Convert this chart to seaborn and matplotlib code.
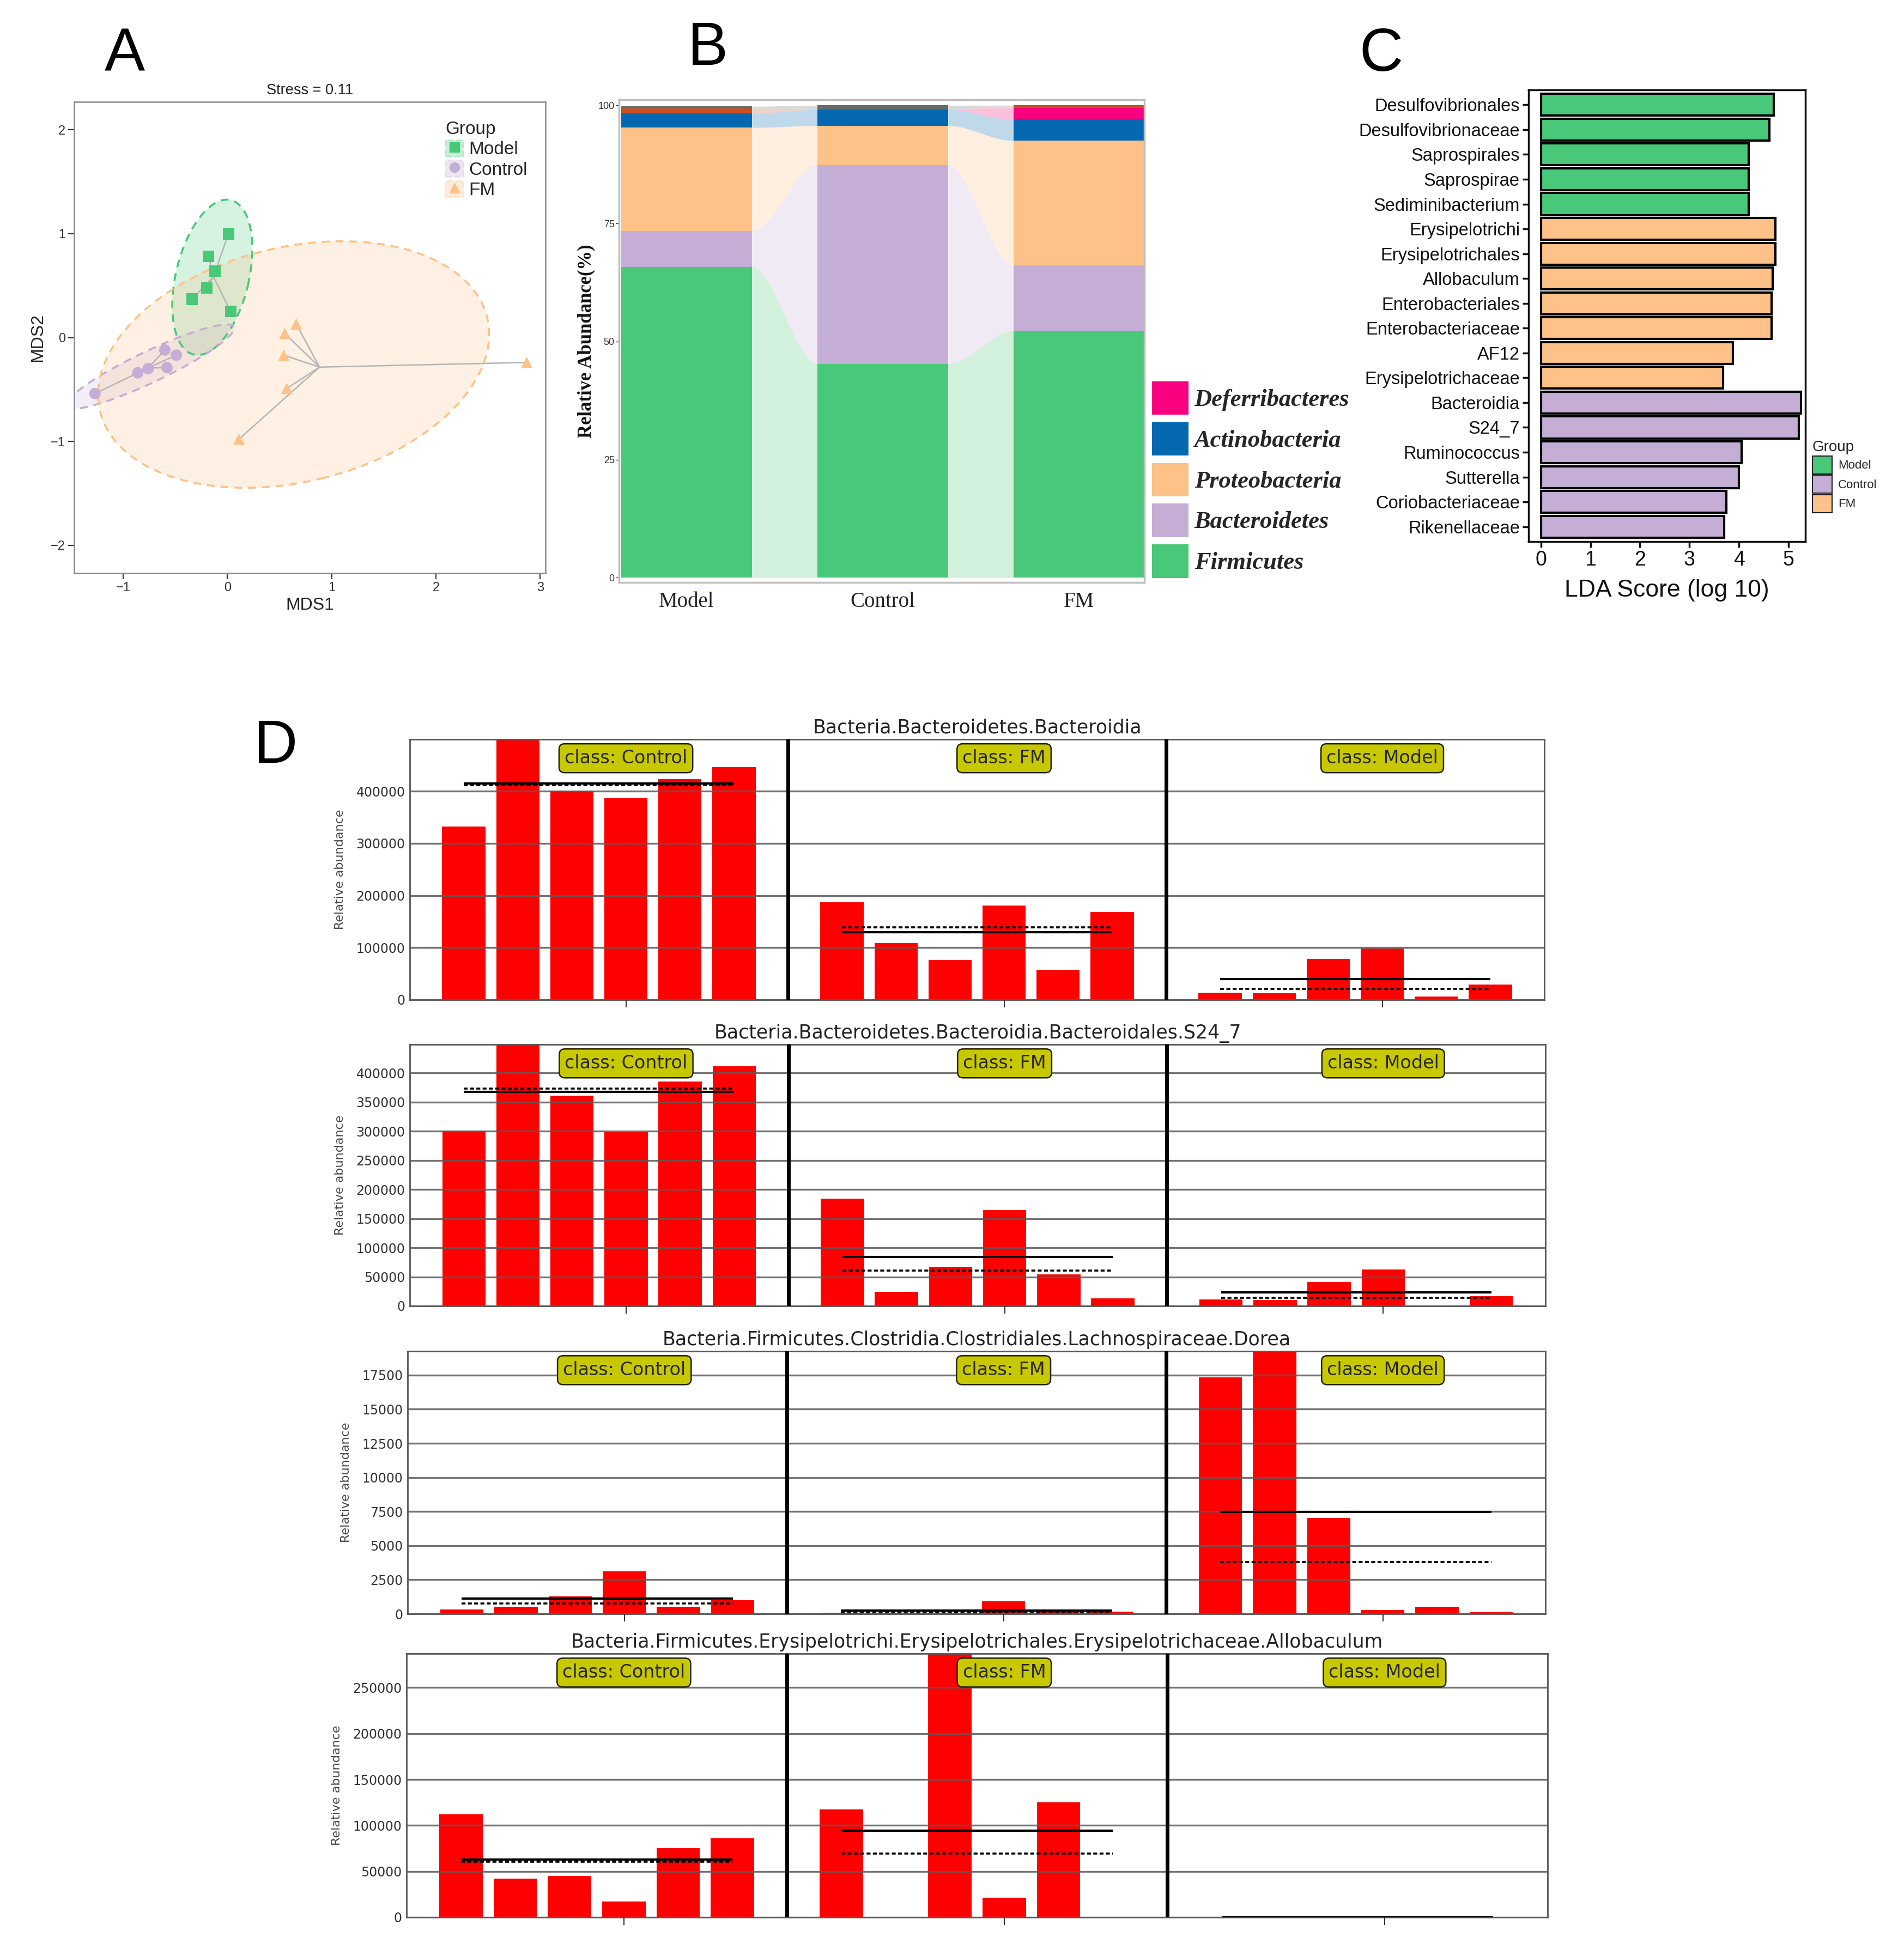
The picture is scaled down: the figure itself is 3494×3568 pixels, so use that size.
import numpy as np
import pandas as pd
import matplotlib
matplotlib.use("Agg")
import matplotlib.pyplot as plt
import matplotlib.transforms as mtransforms
from matplotlib.patches import Ellipse, Patch
from matplotlib.lines import Line2D
from matplotlib.legend_handler import HandlerTuple
from matplotlib.ticker import MultipleLocator, FuncFormatter
from matplotlib import font_manager
import seaborn as sns

# ------------------------------------------------------------------ data
# Panel A: NMDS ordination
groups = ["Model", "Control", "FM"]
model_mds1 = [0.01, -0.18, -0.12, -0.20, -0.34, 0.03]
model_mds2 = [1.00, 0.78, 0.64, 0.48, 0.37, 0.25]
control_mds1 = [-0.60, -0.49, -0.76, -0.86, -0.58, -1.27]
control_mds2 = [-0.12, -0.17, -0.30, -0.34, -0.29, -0.54]
fm_mds1 = [0.66, 0.55, 0.54, 0.57, 0.11, 2.87]
fm_mds2 = [0.13, 0.04, -0.17, -0.49, -0.98, -0.24]
# group ellipses: centre x, centre y, full width, full height, angle (deg)
ell_cx = [-0.145, -0.74, 0.635]
ell_cy = [0.58, -0.28, -0.26]
ell_w = [1.53, 1.78, 3.82]
ell_h = [0.70, 0.30, 2.26]
ell_angle = [76.6, 25.5, 13.7]
stress_text = "Stress = 0.11"

# Panel B: phylum relative abundance (%)
b_groups = ["Model", "Control", "FM"]
phyla = ["Firmicutes", "Bacteroidetes", "Proteobacteria", "Actinobacteria",
         "Deferribacteres", "Tenericutes", "Others"]
firmicutes = [65.8, 45.3, 52.3]
bacteroidetes = [7.6, 42.1, 13.8]
proteobacteria = [21.9, 8.3, 26.4]
actinobacteria = [3.0, 3.4, 4.5]
deferribacteres = [0.0, 0.0, 2.5]
tenericutes = [1.0, 0.1, 0.3]
others = [0.5, 0.8, 0.2]
legend_phyla = ["Deferribacteres", "Actinobacteria", "Proteobacteria",
                "Bacteroidetes", "Firmicutes"]

# Panel C: LEfSe LDA scores
lda_features = ["Desulfovibrionales", "Desulfovibrionaceae", "Saprospirales",
                "Saprospirae", "Sediminibacterium", "Erysipelotrichi",
                "Erysipelotrichales", "Allobaculum", "Enterobacteriales",
                "Enterobacteriaceae", "AF12", "Erysipelotrichaceae",
                "Bacteroidia", "S24_7", "Ruminococcus", "Sutterella",
                "Coriobacteriaceae", "Rikenellaceae"]
lda_scores = [4.70, 4.61, 4.20, 4.20, 4.20, 4.73, 4.73, 4.68, 4.66, 4.66,
              3.88, 3.68, 5.25, 5.21, 4.05, 4.00, 3.74, 3.70]
lda_groups = ["Model", "Model", "Model", "Model", "Model",
              "FM", "FM", "FM", "FM", "FM", "FM", "FM",
              "Control", "Control", "Control", "Control", "Control", "Control"]

# Panel D: per-sample relative abundance of selected biomarkers
d_classes = ["Control", "FM", "Model"]
d_titles = ["Bacteria.Bacteroidetes.Bacteroidia",
            "Bacteria.Bacteroidetes.Bacteroidia.Bacteroidales.S24_7",
            "Bacteria.Firmicutes.Clostridia.Clostridiales.Lachnospiraceae.Dorea",
            "Bacteria.Firmicutes.Erysipelotrichi.Erysipelotrichales.Erysipelotrichaceae.Allobaculum"]
bacteroidia_control = [332400, 500000, 400000, 386500, 423200, 446400]
bacteroidia_fm = [187500, 109000, 76500, 180500, 57200, 168000]
bacteroidia_model = [13500, 12400, 78500, 98600, 6600, 29000]
s24_control = [300700, 449000, 361200, 298300, 385500, 411400]
s24_fm = [184000, 23900, 67500, 164400, 54300, 13500]
s24_model = [11100, 10400, 40800, 63000, 300, 17000]
dorea_control = [300, 500, 1270, 3100, 500, 1000]
dorea_fm = [90, 30, 50, 930, 200, 150]
dorea_model = [17322, 19400, 7041, 295, 516, 118]
allobaculum_control = [112100, 42300, 44900, 17200, 75500, 86000]
allobaculum_fm = [117600, 600, 300000, 21600, 125200, 600]
allobaculum_model = [600, 50, 0, 0, 0, 0]
d_ylim_top = [499500, 449000, 19250, 287000]
d_tick_step = [100000, 50000, 2500, 50000]

# ------------------------------------------------------------------ style
sns.set_theme(style="white")
names = {f.name for f in font_manager.fontManager.ttflist}
narrow = "Liberation Sans Narrow" if "Liberation Sans Narrow" in names else "Liberation Sans"
plt.rcParams["font.family"] = ["Liberation Sans", "DejaVu Sans"]

W, H = 3494, 3568
fig = plt.figure(figsize=(W / 100, H / 100), dpi=100)
fig.patch.set_facecolor("white")


def fr(x0, y0, x1, y1):
    """pixel box -> figure fraction rect"""
    return [x0 / W, 1 - y1 / H, (x1 - x0) / W, (y1 - y0) / H]


grp_col = {"Model": "#48C878", "Control": "#C4AED6", "FM": "#FEC187"}

# ------------------------------------------------------------------ Panel A
axA = fig.add_axes(fr(136, 187, 1001, 1052))
dfA = pd.DataFrame({
    "MDS1": model_mds1 + control_mds1 + fm_mds1,
    "MDS2": model_mds2 + control_mds2 + fm_mds2,
    "Group": ["Model"] * len(model_mds1) + ["Control"] * len(control_mds1) + ["FM"] * len(fm_mds1),
})
for k, g in enumerate(groups):
    axA.add_patch(Ellipse((ell_cx[k], ell_cy[k]), ell_w[k], ell_h[k], angle=ell_angle[k],
                          facecolor=grp_col[g], alpha=0.22, edgecolor="none", zorder=1))
    axA.add_patch(Ellipse((ell_cx[k], ell_cy[k]), ell_w[k], ell_h[k], angle=ell_angle[k],
                          facecolor="none", edgecolor=grp_col[g], lw=2.6,
                          linestyle=(0, (4, 3)), zorder=2))
for g in groups:
    sub = dfA[dfA["Group"] == g]
    cx, cy = sub["MDS1"].mean(), sub["MDS2"].mean()
    for x, y in zip(sub["MDS1"], sub["MDS2"]):
        axA.plot([cx, x], [cy, y], color="#B4B4B4", lw=1.8, zorder=2.5)
sns.scatterplot(data=dfA, x="MDS1", y="MDS2", hue="Group", style="Group",
                hue_order=groups, style_order=groups, palette=grp_col,
                markers={"Model": "s", "Control": "o", "FM": "^"},
                s=230, linewidth=0, legend=False, ax=axA, zorder=3)
axA.set_xlim(-1.47, 3.05)
axA.set_ylim(-2.27, 2.27)
axA.set_xticks([-1, 0, 1, 2, 3])
axA.set_yticks([-2, -1, 0, 1, 2])
axA.tick_params(axis="both", labelsize=17, colors="#333333", length=8, width=1.5,
                direction="out", bottom=True, left=True)
for sp in axA.spines.values():
    sp.set_color("#888888")
    sp.set_linewidth(1.8)
axA.set_xlabel("MDS1", fontsize=23, color="#222222", labelpad=4)
axA.set_ylabel("MDS2", fontsize=23, color="#222222", labelpad=6)
axA.set_title(stress_text, fontsize=19.5, color="#222222", pad=10)
mk = {"Model": "s", "Control": "o", "FM": "^"}
handlesA = []
for g in groups:
    handlesA.append((Patch(facecolor=grp_col[g], alpha=0.3, edgecolor=grp_col[g],
                           linestyle="--", linewidth=2.2),
                     Line2D([], [], marker=mk[g], color=grp_col[g], linestyle="none",
                            markersize=13)))
legA = axA.legend(handlesA, groups, handler_map={tuple: HandlerTuple(ndivide=1)},
                  title="Group", loc="upper left", bbox_to_anchor=(0.772, 0.975),
                  frameon=False, fontsize=24, title_fontsize=24, handlelength=1.0,
                  handleheight=1.0, labelspacing=0.12, handletextpad=0.3,
                  borderaxespad=0)
legA._legend_box.align = "left"

# ------------------------------------------------------------------ Panel B
axB = fig.add_axes(fr(1136, 183, 2100, 1069))
colB = {"Firmicutes": "#48C878", "Bacteroidetes": "#C4AED6",
        "Proteobacteria": "#FEC187", "Actinobacteria": "#0368B0",
        "Deferribacteres": "#F8007F", "Tenericutes": "#CF4E1E", "Others": "#6A6A6A"}
stack = np.array([firmicutes, bacteroidetes, proteobacteria, actinobacteria,
                  deferribacteres, tenericutes, others])
cum = np.cumsum(stack, axis=0)
bot = cum - stack
xB = np.arange(len(b_groups))
wB = 2 / 3
for k, p in enumerate(phyla):
    axB.bar(xB, stack[k], bottom=bot[k], width=wB, color=colB[p], edgecolor="none", zorder=2)
t = np.linspace(0, 1, 200)
sm = t * t * (3 - 2 * t)
for i in range(len(b_groups) - 1):
    xa, xb = xB[i] + wB / 2, xB[i + 1] - wB / 2
    xs = xa + (xb - xa) * t
    for k, p in enumerate(phyla):
        if stack[k, i] == 0 and stack[k, i + 1] == 0:
            continue
        lo = bot[k, i] + (bot[k, i + 1] - bot[k, i]) * sm
        hi = cum[k, i] + (cum[k, i + 1] - cum[k, i]) * sm
        axB.fill_between(xs, lo, hi, color=colB[p], alpha=0.25, lw=0, zorder=1)
axB.set_xlim(-wB / 2 - 0.01, 2 + wB / 2)
axB.set_ylim(-1.0, 101.2)
axB.set_yticks([0, 25, 50, 75, 100])
axB.set_xticks(xB)
axB.set_xticklabels(b_groups, fontfamily=["Liberation Serif", "DejaVu Serif"], fontsize=28,
                    color="#222222")
axB.tick_params(axis="y", labelsize=13, colors="#333333", length=4, width=1, left=True, pad=2)
axB.tick_params(axis="x", length=0, pad=12)
for sp in axB.spines.values():
    sp.set_color("#BDBDBD")
    sp.set_linewidth(2.5)
axB.set_ylabel("Relative Abundance(%)", fontfamily=["Liberation Serif", "DejaVu Serif"],
               fontweight="bold", fontsize=25, color="#111111", labelpad=4)
handlesB = [Patch(facecolor=colB[p], edgecolor="none") for p in legend_phyla]
fig.legend(handlesB, legend_phyla, loc="upper left", bbox_to_anchor=(2114 / W, 1 - 700 / H),
           frameon=False, prop=dict(family=["Liberation Serif", "DejaVu Serif"],
                                    style="italic", weight="bold", size=32),
           handlelength=1.5, handleheight=1.75, labelspacing=0.3, handletextpad=0.25,
           borderaxespad=0, borderpad=0)

# ------------------------------------------------------------------ Panel C
axC = fig.add_axes(fr(2805, 165, 3313, 994))
dfC = pd.DataFrame({"feature": lda_features, "score": lda_scores, "group": lda_groups})
sns.barplot(data=dfC, x="score", y="feature", hue="group", order=lda_features,
            hue_order=groups, palette=grp_col, dodge=False, orient="h", width=0.88,
            saturation=1, edgecolor="black", linewidth=3, errorbar=None,
            legend=False, ax=axC)
axC.set_xlim(-0.25, 5.34)
axC.set_ylim(len(lda_features) - 0.4, -0.6)
axC.set_xticks([0, 1, 2, 3, 4, 5])
axC.set_xlabel("LDA Score (log 10)", fontfamily=[narrow, "DejaVu Sans"], fontsize=32,
               color="#111111", labelpad=12)
axC.set_ylabel("")
axC.tick_params(axis="both", colors="#111111", length=8, width=2.5, direction="out",
                left=True, bottom=True)
for lab in axC.get_yticklabels():
    lab.set_fontfamily([narrow, "DejaVu Sans"])
    lab.set_fontsize(23.5)
for lab in axC.get_xticklabels():
    lab.set_fontfamily([narrow, "DejaVu Sans"])
    lab.set_fontsize(27)
for sp in axC.spines.values():
    sp.set_color("#111111")
    sp.set_linewidth(2.5)
handlesC = [Patch(facecolor=grp_col[g], edgecolor="#222222", lw=1.5) for g in groups]
legC = fig.legend(handlesC, groups, loc="upper left", bbox_to_anchor=(3326 / W, 1 - 808 / H),
                  frameon=False, title="Group",
                  prop=dict(family=[narrow, "DejaVu Sans"], size=16),
                  title_fontproperties=dict(family=[narrow, "DejaVu Sans"], size=20),
                  handlelength=1.6, handleheight=1.9, labelspacing=0.12, handletextpad=0.5,
                  borderaxespad=0, borderpad=0)
legC._legend_box.align = "left"

# ------------------------------------------------------------------ Panel D
d_rows = [
    [bacteroidia_control, bacteroidia_fm, bacteroidia_model],
    [s24_control, s24_fm, s24_model],
    [dorea_control, dorea_fm, dorea_model],
    [allobaculum_control, allobaculum_fm, allobaculum_model],
]
d_boxes = [(752, 1357, 2834, 1835), (752, 1917, 2836, 2397),
           (748, 2480, 2836, 2962), (746, 3035, 2840, 3519)]
for r, rows in enumerate(d_rows):
    ax = fig.add_axes(fr(*d_boxes[r]))
    n = len(rows[0])
    pos, vals = [], []
    for g, v in enumerate(rows):
        for i, val in enumerate(v):
            pos.append(i + (n + 1) * g)
            vals.append(val)
    sns.barplot(x=pos, y=vals, native_scale=True, color="#FF0000", saturation=1,
                width=0.8, errorbar=None, edgecolor="none", linewidth=0, ax=ax)
    for g, v in enumerate(rows):
        x0 = (n + 1) * g
        x1 = x0 + n - 1
        ax.hlines(np.mean(v), x0, x1, color="black", lw=3, zorder=5)
        ax.hlines(np.median(v), x0, x1, color="black", lw=2.6,
                  linestyles=[(0, (2, 1.2))], zorder=5)
        if g > 0:
            ax.axvline(x0 - 1, color="black", lw=5, zorder=6)
    trans = mtransforms.blended_transform_factory(ax.transData, ax.transAxes)
    for g, c in enumerate(d_classes):
        ax.text((n + 1) * g + n / 2, 0.962, "class: " + c, transform=trans,
                ha="center", va="top", fontsize=24, family=["DejaVu Sans"], zorder=7,
                bbox=dict(boxstyle="round,pad=0.3", facecolor="#C8C800",
                          edgecolor="#222200", linewidth=1.8))
    ax.set_xlim(-1, 3 * (n + 1) - 1)
    ax.set_ylim(0, d_ylim_top[r])
    ax.yaxis.set_major_locator(MultipleLocator(d_tick_step[r]))
    ax.yaxis.set_major_formatter(FuncFormatter(lambda v, p: "%d" % v))
    ax.set_xticks([(n + 1) * g + n / 2 for g in range(3)])
    ax.set_xticklabels([])
    ax.set_xlabel("")
    ax.tick_params(axis="x", length=10, width=1.5, colors="#333333", direction="out",
                   bottom=True)
    ax.tick_params(axis="y", length=0, labelsize=17, colors="#333333", pad=6)
    for lab in ax.get_yticklabels():
        lab.set_fontfamily(["DejaVu Sans"])
    ax.set_axisbelow(False)
    ax.yaxis.grid(True, color="#5A5A5A", lw=2.4, alpha=0.85)
    ax.xaxis.grid(False)
    for sp in ax.spines.values():
        sp.set_color("#555555")
        sp.set_linewidth(2.0)
    ax.set_ylabel("Relative abundance", fontsize=16, color="#444444",
                  family=["DejaVu Sans"], labelpad=14)
    ax.set_title(d_titles[r], fontsize=25, family=["DejaVu Sans"], color="#222222", pad=8)

# ------------------------------------------------------------------ panel letters
for letter, (px, py) in zip("ABCD", [(192, 130), (1262, 119), (2494, 130), (466, 1400)]):
    fig.text(px / W, 1 - py / H, letter, fontsize=80, ha="left", va="baseline",
             color="black", family=["Liberation Sans", "DejaVu Sans"])

fig.savefig("out.png", dpi=100, facecolor="white")
